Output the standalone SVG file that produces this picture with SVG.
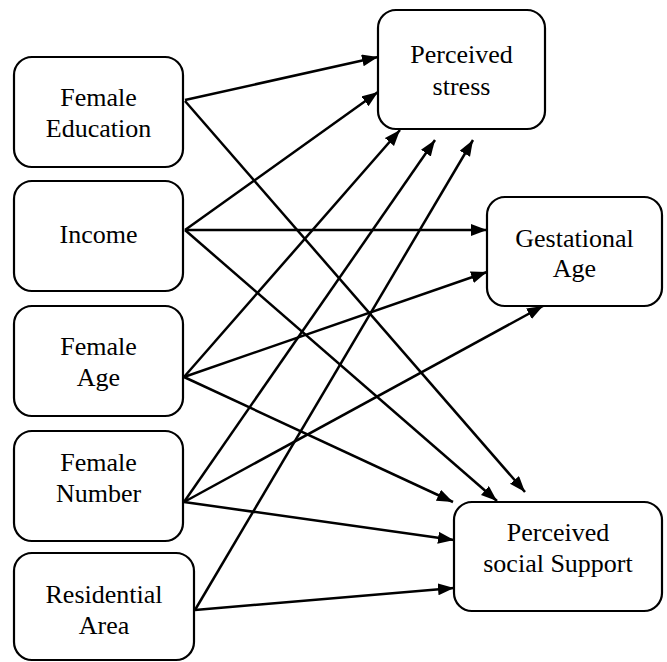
<svg xmlns="http://www.w3.org/2000/svg" width="667" height="662" viewBox="0 0 667 662">
<style>
.box{fill:#fff;stroke:#000;stroke-width:2.2}
.t{font-family:'Liberation Serif','Times New Roman',serif;font-size:26px;text-anchor:middle;fill:#000}
</style>
<defs>
<marker id="ah" markerUnits="userSpaceOnUse" markerWidth="17" markerHeight="13" refX="16" refY="6" orient="auto">
<path d="M0,0 L16,6 L0,12 z" fill="#000"/>
</marker>
</defs>
<rect width="667" height="662" fill="#fff"/>
<g id="connectors" stroke="#000" stroke-width="2.5" fill="none">
<line x1="185" y1="100" x2="378" y2="57" marker-end="url(#ah)"/>
<line x1="185" y1="101" x2="525" y2="492" marker-end="url(#ah)"/>
<line x1="185" y1="230" x2="378" y2="92" marker-end="url(#ah)"/>
<line x1="185" y1="230" x2="487" y2="230" marker-end="url(#ah)"/>
<line x1="185" y1="230" x2="497" y2="501" marker-end="url(#ah)"/>
<line x1="184" y1="377" x2="400" y2="130" marker-end="url(#ah)"/>
<line x1="184" y1="377" x2="487" y2="272" marker-end="url(#ah)"/>
<line x1="184" y1="377" x2="453" y2="502" marker-end="url(#ah)"/>
<line x1="184" y1="502" x2="435" y2="140" marker-end="url(#ah)"/>
<line x1="184" y1="502" x2="543" y2="306" marker-end="url(#ah)"/>
<line x1="184" y1="502" x2="454" y2="540" marker-end="url(#ah)"/>
<line x1="195" y1="610" x2="473" y2="140" marker-end="url(#ah)"/>
<line x1="195" y1="610" x2="454" y2="588" marker-end="url(#ah)"/>
</g>
<g id="female-education">
<rect class="box" x="14" y="57" width="169" height="110" rx="18"/>
<text class="t" x="98.5" y="106">Female</text>
<text class="t" x="98.5" y="137">Education</text>
</g>
<g id="income">
<rect class="box" x="14" y="181" width="169" height="110" rx="18"/>
<text class="t" x="98.5" y="243">Income</text>
</g>
<g id="female-age">
<rect class="box" x="14" y="306" width="169" height="110" rx="18"/>
<text class="t" x="98.5" y="355">Female</text>
<text class="t" x="98.5" y="386">Age</text>
</g>
<g id="female-number">
<rect class="box" x="14" y="431" width="169" height="110" rx="18"/>
<text class="t" x="98.5" y="471">Female</text>
<text class="t" x="98.5" y="502">Number</text>
</g>
<g id="residential-area">
<rect class="box" x="14" y="553" width="180" height="107" rx="18"/>
<text class="t" x="104" y="603">Residential</text>
<text class="t" x="104" y="634">Area</text>
</g>
<g id="perceived-stress">
<rect class="box" x="378" y="10" width="167" height="119" rx="18"/>
<text class="t" x="461.5" y="63">Perceived</text>
<text class="t" x="461.5" y="95">stress</text>
</g>
<g id="gestational-age">
<rect class="box" x="487" y="197" width="175" height="109" rx="18"/>
<text class="t" x="574.5" y="247">Gestational</text>
<text class="t" x="574.5" y="277">Age</text>
</g>
<g id="perceived-social-support">
<rect class="box" x="454" y="502" width="208" height="109" rx="18"/>
<text class="t" x="558" y="541">Perceived</text>
<text class="t" x="558" y="572">social Support</text>
</g>
</svg>
